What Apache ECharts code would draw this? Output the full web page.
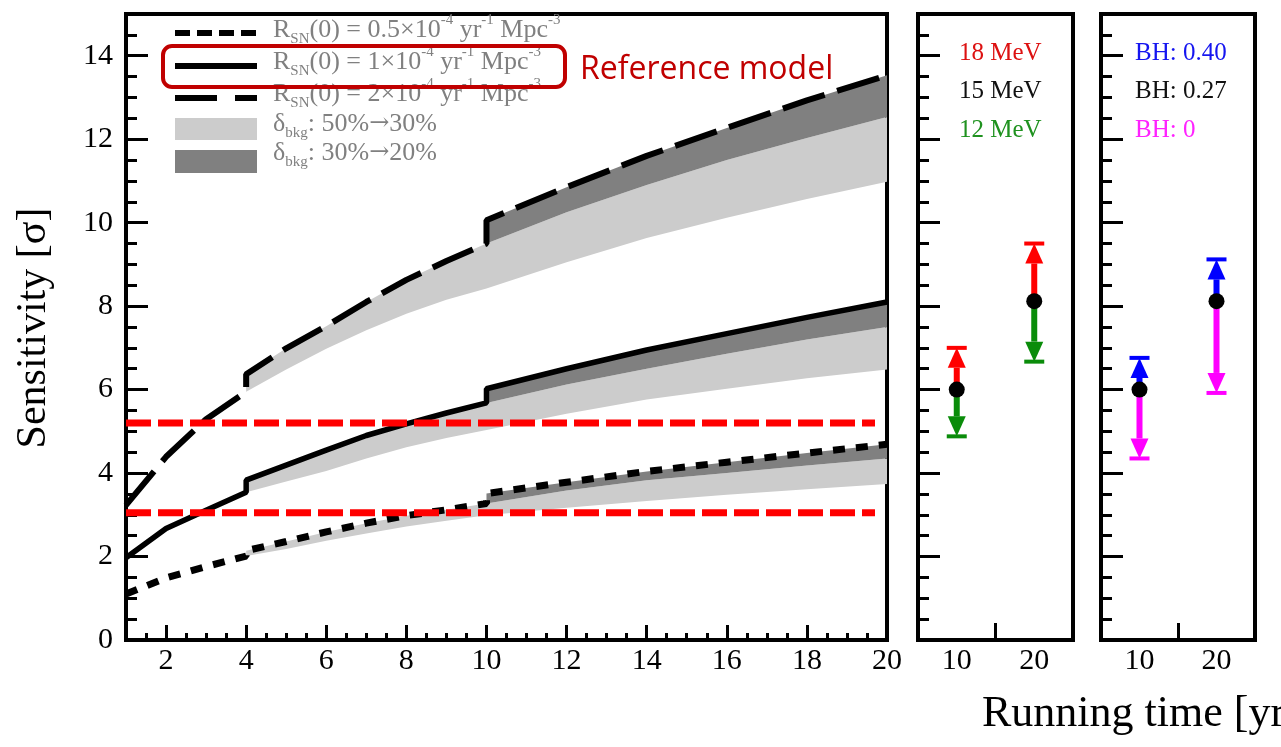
<!DOCTYPE html>
<html><head><meta charset="utf-8">
<script src="https://cdn.jsdelivr.net/npm/echarts@6/dist/echarts.min.js"></script>
<style>html,body{margin:0;padding:0;background:#fff}#c{width:1281px;height:747px}</style>
</head><body><div id="c"></div>
<script>
// ---------------- data ----------------
const tPre  = [1, 2, 3, 4];
const tMid  = [4, 5, 6, 7, 8, 9, 10];
const tPost = [10, 12, 14, 16, 18, 20];
const tBand = [4, 5, 6, 7, 8, 9, 10, 12, 14, 16, 18, 20];

// R_SN(0) = 2e-4 (long dash)
const s2Pre  = [3.23, 4.39, 5.29, 5.95];
const s2Mid  = [6.37, 6.99, 7.52, 8.10, 8.63, 9.08, 9.50];
const s2Post = [10.06, 10.85, 11.60, 12.27, 12.93, 13.53];
const l2     = [5.95, 6.48, 6.98, 7.42, 7.82, 8.15, 8.42, 9.05, 9.63, 10.12, 10.57, 10.98];
const d2     = [9.50, 10.25, 10.90, 11.50, 12.03, 12.53];

// R_SN(0) = 1e-4 (solid, reference)
const s1Pre  = [1.97, 2.67, 3.11, 3.54];
const s1Mid  = [3.83, 4.19, 4.55, 4.90, 5.18, 5.44, 5.68];
const s1Post = [6.02, 6.50, 6.95, 7.34, 7.73, 8.10];
const l1     = [3.54, 3.80, 4.05, 4.35, 4.62, 4.84, 5.03, 5.42, 5.76, 6.02, 6.27, 6.48];
const d1     = [5.68, 6.12, 6.50, 6.86, 7.20, 7.50];

// R_SN(0) = 0.5e-4 (short dash)
const s05Pre  = [1.10, 1.49, 1.76, 2.01];
const s05Mid  = [2.14, 2.36, 2.59, 2.80, 2.98, 3.12, 3.27];
const s05Post = [3.51, 3.78, 4.04, 4.26, 4.48, 4.69];
const l05     = [2.01, 2.18, 2.38, 2.55, 2.72, 2.86, 2.99, 3.17, 3.33, 3.48, 3.61, 3.74];
const d05     = [3.27, 3.58, 3.83, 4.00, 4.18, 4.35];

// red reference lines
const refLevels = [5.2, 3.05];
const refRange  = [1, 19.7];

// right panels
const panelX      = [10, 20];
const panelCenter = [6.0, 8.12];
const mev18 = [7.0, 9.5];
const mev12 = [4.88, 6.67];
const bh40  = [6.76, 9.12];
const bh0   = [4.35, 5.92];

// ticks
const xMajorTicks = [2, 4, 6, 8, 10, 12, 14, 16, 18, 20];
const yMajorTicks = [0, 2, 4, 6, 8, 10, 12, 14];
const panelLabels = [10, 20];
const panelTicks  = [15];

const energyLabels = ['18 MeV', '15 MeV', '12 MeV'];
const bhLabels     = ['BH: 0.40', 'BH: 0.27', 'BH: 0'];

// ---------------- helpers ----------------
const SERIF = '"Liberation Serif", "Times New Roman", serif';
const pairs = (xs, ys) => xs.map((x, i) => [x, ys[i]]);
const curve = (pre, mid, post) => pairs(tPre, pre).concat(pairs(tMid, mid), pairs(tPost, post));
function bandPts(xu, yu, xl, yl) {
  return pairs(xu, yu).concat(pairs(xl, yl).reverse());
}
function bandSeries(pts, color) {
  return {
    type: 'custom', xAxisIndex: 0, yAxisIndex: 0, z: 2, silent: true,
    data: pts, encode: { x: 0, y: 1 },
    renderItem: function (params, api) {
      if (params.dataIndex !== 0) return null;
      return { type: 'polygon', shape: { points: pts.map(p => api.coord(p)) }, style: { fill: color } };
    }
  };
}
function arrowSeries(xi, yi, centers, ends, color) {
  return {
    type: 'custom', xAxisIndex: xi, yAxisIndex: yi, z: 5, silent: true,
    data: panelX.map((x, i) => [x, centers[i], ends[i]]),
    encode: { x: 0, y: [1, 2] },
    renderItem: function (params, api) {
      const x = api.value(0), c = api.value(1), e = api.value(2);
      const p0 = api.coord([x, c]), p1 = api.coord([x, e]);
      const dir = p1[1] < p0[1] ? -1 : 1;
      const headH = 20, headW = 18, capW = 20;
      const baseY = p1[1] - dir * headH;
      return { type: 'group', children: [
        { type: 'line', shape: { x1: p0[0], y1: p0[1], x2: p0[0], y2: baseY }, style: { stroke: color, lineWidth: 6 } },
        { type: 'polygon', shape: { points: [[p1[0] - headW / 2, baseY], [p1[0] + headW / 2, baseY], [p1[0], p1[1]]] }, style: { fill: color } },
        { type: 'line', shape: { x1: p1[0] - capW / 2, y1: p1[1], x2: p1[0] + capW / 2, y2: p1[1] }, style: { stroke: color, lineWidth: 4 } }
      ]};
    }
  };
}
function yAxesFor(gi, labels) {
  return [
    { gridIndex: gi, type: 'value', min: 0, max: 15, interval: 0.5, position: 'left',
      axisLine: { show: true, lineStyle: { color: '#000', width: 4 } },
      axisTick: { show: true, inside: true, length: 11, lineStyle: { color: '#000', width: 3 } },
      axisLabel: { show: false }, splitLine: { show: false } },
    { gridIndex: gi, type: 'value', min: 0, max: 15, position: 'left',
      axisLine: { show: false },
      axisTick: { show: true, inside: true, length: 22, customValues: yMajorTicks, lineStyle: { color: '#000', width: 3 } },
      axisLabel: labels ? { show: true, customValues: yMajorTicks, fontSize: 30, fontFamily: SERIF, color: '#000', margin: 13 } : { show: false },
      splitLine: { show: false } }
  ];
}
function panelXAxis(gi) {
  return { gridIndex: gi, type: 'value', min: 5, max: 25,
    axisLine: { show: true, lineStyle: { color: '#000', width: 4 } },
    axisTick: { show: true, inside: true, length: 17, customValues: panelTicks, lineStyle: { color: '#000', width: 3 } },
    axisLabel: { show: true, customValues: panelLabels, fontSize: 30, fontFamily: SERIF, color: '#000', margin: 6 },
    splitLine: { show: false } };
}
const legendRich = {
  m:   { fontSize: 26, fontFamily: SERIF, fill: '#808080', lineHeight: 34, verticalAlign: 'middle' },
  arr: { fontSize: 24, fontFamily: '"DejaVu Serif", serif', fill: '#808080', lineHeight: 34, verticalAlign: 'middle' },
  sup: { fontSize: 15, fontFamily: SERIF, fill: '#808080', lineHeight: 15, verticalAlign: 'top' },
  sub: { fontSize: 15, fontFamily: SERIF, fill: '#808080', lineHeight: 15, verticalAlign: 'bottom' }
};
function legendRow(y, text) {
  return { type: 'text', left: 273, top: y - 17, z: 50, silent: true, style: { text: text, rich: legendRich } };
}

const gridTop = 14, gridH = 626;
const dotStyle = { color: '#000', opacity: 1, borderWidth: 0 };

const option = {
  animation: false,
  backgroundColor: '#fff',
  grid: [
    { left: 126, top: gridTop, width: 761, height: gridH, show: true, borderColor: '#000', borderWidth: 4, outerBoundsMode: 'none', containLabel: false },
    { left: 918, top: gridTop, width: 155, height: gridH, show: true, borderColor: '#000', borderWidth: 4, outerBoundsMode: 'none', containLabel: false },
    { left: 1101, top: gridTop, width: 154, height: gridH, show: true, borderColor: '#000', borderWidth: 4, outerBoundsMode: 'none', containLabel: false }
  ],
  xAxis: [
    { gridIndex: 0, type: 'value', min: 1, max: 20, interval: 0.5, position: 'bottom',
      axisLine: { show: true, lineStyle: { color: '#000', width: 4 } },
      axisTick: { show: true, inside: true, length: 7, lineStyle: { color: '#000', width: 3 } },
      axisLabel: { show: false }, splitLine: { show: false } },
    { gridIndex: 0, type: 'value', min: 1, max: 20, position: 'bottom',
      axisLine: { show: false },
      axisTick: { show: true, inside: true, length: 15, customValues: xMajorTicks, lineStyle: { color: '#000', width: 3 } },
      axisLabel: { show: true, customValues: xMajorTicks, fontSize: 30, fontFamily: SERIF, color: '#000', margin: 6 },
      splitLine: { show: false } },
    panelXAxis(1),   // xAxisIndex 2
    panelXAxis(2)    // xAxisIndex 3
  ],
  // yAxisIndex: 0,1 main; 2,3 panel 2; 4,5 panel 3
  yAxis: [].concat(yAxesFor(0, true), yAxesFor(1, false), yAxesFor(2, false)),
  series: [
    // light bands (50% -> 30%)
    bandSeries(bandPts(tMid.concat(tPost.slice(1)), s2Mid.concat(d2.slice(1)), tBand, l2), '#cccccc'),
    bandSeries(bandPts(tMid.concat(tPost.slice(1)), s1Mid.concat(d1.slice(1)), tBand, l1), '#cccccc'),
    bandSeries(bandPts(tMid.concat(tPost.slice(1)), s05Mid.concat(d05.slice(1)), tBand, l05), '#cccccc'),
    // dark bands (30% -> 20%)
    bandSeries(bandPts(tPost, s2Post, tPost, d2), '#808080'),
    bandSeries(bandPts(tPost, s1Post, tPost, d1), '#808080'),
    bandSeries(bandPts(tPost, s05Post, tPost, d05), '#808080'),
    // model curves
    { type: 'line', xAxisIndex: 0, yAxisIndex: 0, z: 4, symbol: 'none', silent: true,
      data: curve(s2Pre, s2Mid, s2Post), lineStyle: { color: '#000', width: 6, type: [44, 13], cap: 'butt' } },
    { type: 'line', xAxisIndex: 0, yAxisIndex: 0, z: 4, symbol: 'none', silent: true,
      data: curve(s1Pre, s1Mid, s1Post), lineStyle: { color: '#000', width: 5.5, type: 'solid' } },
    { type: 'line', xAxisIndex: 0, yAxisIndex: 0, z: 4, symbol: 'none', silent: true,
      data: curve(s05Pre, s05Mid, s05Post), lineStyle: { color: '#000', width: 7, type: [12, 11], cap: 'butt' } },
    // red reference lines
    ...refLevels.map(v => ({ type: 'line', xAxisIndex: 0, yAxisIndex: 0, z: 6, symbol: 'none', silent: true,
      data: refRange.map(x => [x, v]), lineStyle: { color: '#ff0000', width: 7, type: [25, 7], cap: 'butt' } })),
    // panel 2 (energy)
    arrowSeries(2, 2, panelCenter, mev18, '#ff0000'),
    arrowSeries(2, 2, panelCenter, mev12, '#0a8c0a'),
    { type: 'scatter', xAxisIndex: 2, yAxisIndex: 2, z: 8, symbol: 'circle', symbolSize: 16, silent: true,
      itemStyle: dotStyle, data: pairs(panelX, panelCenter) },
    // panel 3 (BH fraction)
    arrowSeries(3, 4, panelCenter, bh40, '#0000ff'),
    arrowSeries(3, 4, panelCenter, bh0, '#ff00ff'),
    { type: 'scatter', xAxisIndex: 3, yAxisIndex: 4, z: 8, symbol: 'circle', symbolSize: 16, silent: true,
      itemStyle: dotStyle, data: pairs(panelX, panelCenter) }
  ],
  graphic: [
    // legend samples
    { type: 'line', z: 50, silent: true, shape: { x1: 175, y1: 33, x2: 257, y2: 33 }, style: { stroke: '#000', lineWidth: 6, lineDash: [15, 7] } },
    { type: 'line', z: 50, silent: true, shape: { x1: 175, y1: 66, x2: 257, y2: 66 }, style: { stroke: '#000', lineWidth: 6 } },
    { type: 'line', z: 50, silent: true, shape: { x1: 175, y1: 98, x2: 257, y2: 98 }, style: { stroke: '#000', lineWidth: 6, lineDash: [42, 18] } },
    { type: 'rect', z: 50, silent: true, shape: { x: 175, y: 118, width: 82, height: 22 }, style: { fill: '#cccccc' } },
    { type: 'rect', z: 50, silent: true, shape: { x: 175, y: 150, width: 82, height: 23 }, style: { fill: '#808080' } },
    legendRow(30, '{m|R}{sub|SN}{m|(0) = 0.5×10}{sup|-4}{m| yr}{sup|-1}{m| Mpc}{sup|-3}'),
    legendRow(62, '{m|R}{sub|SN}{m|(0) = 1×10}{sup|-4}{m| yr}{sup|-1}{m| Mpc}{sup|-3}'),
    legendRow(94, '{m|R}{sub|SN}{m|(0) = 2×10}{sup|-4}{m| yr}{sup|-1}{m| Mpc}{sup|-3}'),
    legendRow(128, '{m|δ}{sub|bkg}{m|: 50%}{arr|→}{m|30%}'),
    legendRow(157, '{m|δ}{sub|bkg}{m|: 30%}{arr|→}{m|20%}'),
    // reference model highlight
    { type: 'rect', z: 60, silent: true, shape: { x: 163, y: 46, width: 402, height: 41, r: 9 }, style: { fill: 'none', stroke: '#c00000', lineWidth: 4 } },
    { type: 'text', z: 60, silent: true, x: 580, y: 70, style: { text: 'Reference model', font: '32px "Open Sans", sans-serif', fill: '#c00000', align: 'left', verticalAlign: 'middle' } },
    // axis titles
    { type: 'text', z: 60, silent: true, x: 34, y: 328, rotation: Math.PI / 2, style: { text: 'Sensitivity [σ]', font: '42px ' + SERIF, fill: '#000', align: 'center', verticalAlign: 'middle' } },
    { type: 'text', z: 60, silent: true, x: 982, y: 714, style: { text: 'Running time [yr]', font: '44px ' + SERIF, fill: '#000', align: 'left', verticalAlign: 'middle' } },
    // panel annotations
    ...energyLabels.map((t, i) => ({ type: 'text', z: 60, silent: true, x: 959, y: 53 + i * 38.5,
      style: { text: t, font: '25px ' + SERIF, fill: ['#dd1111', '#111111', '#1f921f'][i], align: 'left', verticalAlign: 'middle' } })),
    ...bhLabels.map((t, i) => ({ type: 'text', z: 60, silent: true, x: 1135, y: 53 + i * 38.5,
      style: { text: t, font: '25px ' + SERIF, fill: ['#1515f0', '#111111', '#ff22ff'][i], align: 'left', verticalAlign: 'middle' } }))
  ]
};

const chart = echarts.init(document.getElementById('c'), null, { renderer: 'canvas' });
chart.setOption(option);
</script></body></html>
